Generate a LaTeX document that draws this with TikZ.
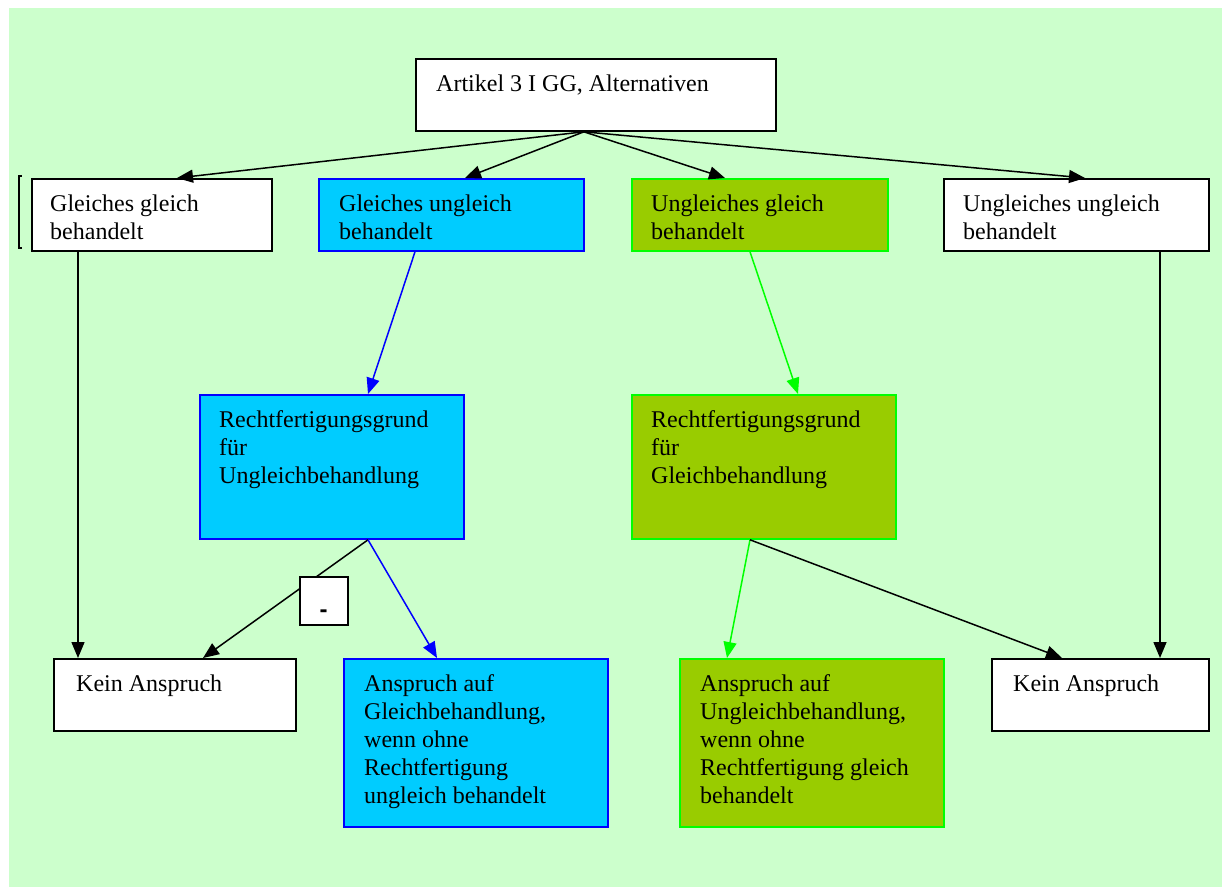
\documentclass[tikz,border=0pt]{standalone}
\usepackage{fontspec}
\setmainfont{Liberation Serif}
\newfontfamily\dashfont{Liberation Sans}
\usetikzlibrary{arrows.meta}
\definecolor{bgc}{HTML}{CCFFCC}
\definecolor{cyanf}{HTML}{00CCFF}
\definecolor{blued}{HTML}{0000FF}
\definecolor{greenf}{HTML}{99CC00}
\definecolor{greend}{HTML}{00FF00}
\tikzset{
  box/.style={draw=black, fill=white, line width=1.8pt, inner sep=0pt, anchor=north west},
  cbox/.style={box, draw=blued, fill=cyanf},
  gbox/.style={box, draw=greend, fill=greenf},
  txt/.style={anchor=base west, inner sep=0pt, font=\fontsize{24}{28}\selectfont},
  arr/.style={line width=1.5pt, -{Triangle[length=16pt,width=13pt]}},
  barr/.style={arr, draw=blued, -{Triangle[length=16pt,width=13pt,fill=blued]}},
  garr/.style={arr, draw=greend, -{Triangle[length=16pt,width=13pt,fill=greend]}},
}
\newcommand{\ml}[1]{\begin{tabular}[t]{@{}l@{}}#1\end{tabular}}
\begin{document}
\begin{tikzpicture}[x=1pt,y=-1pt]
\useasboundingbox (0,0) rectangle (1227,887);
\fill[bgc] (9,8) rectangle (1222,887);

% boxes
\node[box, minimum width=360pt, minimum height=72pt] (art) at (415,58) {};
\node[box, minimum width=240pt, minimum height=72pt] (b1) at (31,178) {};
\node[cbox, minimum width=265pt, minimum height=72pt] (b2) at (318,178) {};
\node[gbox, minimum width=256pt, minimum height=72pt] (b3) at (631,178) {};
\node[box, minimum width=265pt, minimum height=72pt] (b4) at (943,178) {};
\node[cbox, minimum width=264pt, minimum height=144pt] (b5) at (199,394) {};
\node[gbox, minimum width=264pt, minimum height=144pt] (b6) at (631,394) {};
\node[box, minimum width=242pt, minimum height=72pt] (b7) at (53,658) {};
\node[cbox, minimum width=264pt, minimum height=168pt] (b8) at (343,658) {};
\node[gbox, minimum width=264pt, minimum height=168pt] (b9) at (679,658) {};
\node[box, minimum width=217pt, minimum height=72pt] (b10) at (991,658) {};

% texts
\node[txt] (tart) at ([shift={(21,33)}]art.north west) {Artikel 3 I GG, Alternativen};
\node[txt] (t1) at ([shift={(19,33)}]b1.north west) {\ml{Gleiches gleich\\behandelt}};
\node[txt] (t2) at ([shift={(21,33)}]b2.north west) {\ml{Gleiches ungleich\\behandelt}};
\node[txt] (t3) at ([shift={(20,33)}]b3.north west) {\ml{Ungleiches gleich\\behandelt}};
\node[txt] (t4) at ([shift={(20,33)}]b4.north west) {\ml{Ungleiches ungleich\\behandelt}};
\node[txt] (t5) at ([shift={(20,33)}]b5.north west) {\ml{Rechtfertigungsgrund\\für\\Ungleichbehandlung}};
\node[txt] (t6) at ([shift={(20,33)}]b6.north west) {\ml{Rechtfertigungsgrund\\für\\Gleichbehandlung}};
\node[txt] (t7) at ([shift={(23,33)}]b7.north west) {Kein Anspruch};
\node[txt] (t8) at ([shift={(21,33)}]b8.north west) {\ml{Anspruch auf\\Gleichbehandlung,\\wenn ohne\\Rechtfertigung\\ungleich behandelt}};
\node[txt] (t9) at ([shift={(21,33)}]b9.north west) {\ml{Anspruch auf\\Ungleichbehandlung,\\wenn ohne\\Rechtfertigung gleich\\behandelt}};
\node[txt] (t10) at ([shift={(22,33)}]b10.north west) {Kein Anspruch};

% bracket at left
\draw[line width=1.5pt] (21.5,176) -- (19,176) -- (19,248) -- (21.5,248);

% arrows from top
\coordinate (src) at ([xshift=-12pt]art.south);
\draw[arr] (src) -- ([xshift=146pt]b1.north west);
\draw[arr] (src) -- ([xshift=147pt]b2.north west);
\draw[arr] (src) -- ([xshift=94pt]b3.north west);
\draw[arr] (src) -- ([xshift=142pt]b4.north west);

% verticals and diagonals
\draw[arr] ([xshift=47pt]b1.south west) -- ([xshift=25pt]b7.north west);
\draw[barr] ([xshift=97pt]b2.south west) -- ([xshift=169pt]b5.north west);
\draw[garr] ([xshift=119pt]b3.south west) -- ([xshift=167pt]b6.north west);
\draw[arr] ([xshift=217pt]b4.south west) -- ([xshift=169pt]b10.north west);

\draw[arr] ([xshift=169pt]b5.south west) -- ([xshift=150pt]b7.north west);
\draw[barr] ([xshift=169pt]b5.south west) -- ([xshift=94pt]b8.north west);
\draw[garr] ([xshift=119pt]b6.south west) -- ([xshift=48pt]b9.north west);
\draw[arr] ([xshift=119pt]b6.south west) -- ([xshift=71pt]b10.north west);

% minus box
\node[box, minimum width=48pt, minimum height=48pt] (mbox) at (299,576) {};
\node[anchor=base, inner sep=0pt, font=\dashfont\bfseries\fontsize{24}{28}\selectfont] (mtxt) at (323.5,617) {-};
\end{tikzpicture}
\end{document}
